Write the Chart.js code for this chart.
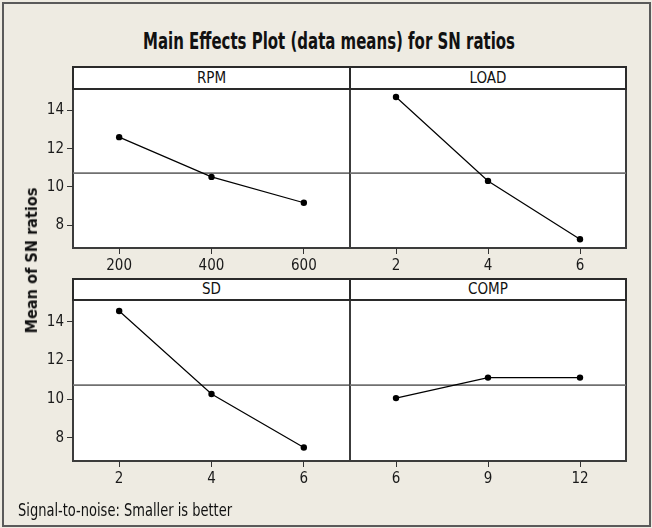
<!DOCTYPE html>
<html>
<head>
<meta charset="utf-8">
<script src="https://cdn.jsdelivr.net/npm/chart.js@4.4.0/dist/chart.umd.min.js"></script>
<style>
  body { margin: 0; background: #eeebe2; }
  #page { position: relative; width: 652px; height: 528px; overflow: hidden; background: #eeebe2;
          font-family: 'Liberation Sans Narrow', 'DejaVu Sans Condensed', 'Liberation Sans', sans-serif; color: #111; }
  .frame { position: absolute; left: 2px; top: 2px; width: 649px; height: 525px; box-sizing: border-box; border: 2px solid #5a5a5a; }
  .head { position: absolute; box-sizing: border-box; border: 2px solid #2a2a2a; background: #fff;
          display: flex; align-items: center; justify-content: center; font-size: 15px; line-height: 1; }
  .plot { position: absolute; box-sizing: border-box; border: 2px solid #3c3c3c; border-top: none; background: #fff; }
  canvas { position: absolute; }
  .txt { position: absolute; white-space: nowrap; line-height: 1; }
</style>
</head>
<body>
<div id="page">
  <div class="frame"></div>
</div>
<script>
// valores
const factores = ['RPM', 'LOAD', 'SD', 'COMP'];
const nivelesRPM = [200, 400, 600];
const mediasRPM = [12.60, 10.52, 9.17];
const nivelesLOAD = [2, 4, 6];
const mediasLOAD = [14.70, 10.31, 7.26];
const nivelesSD = [2, 4, 6];
const mediasSD = [14.55, 10.26, 7.50];
const nivelesCOMP = [6, 9, 12];
const mediasCOMP = [10.05, 11.11, 11.11];
const mediaGeneral = 10.72;
const ticksY = [8, 10, 12, 14];

const titulo = 'Main Effects Plot (data means) for SN ratios';
const tituloY = 'Mean of SN ratios';
const nota = 'Signal-to-noise: Smaller is better';

const page = document.getElementById('page');
const fuenteTicks = "'Liberation Sans Narrow', 'DejaVu Sans Condensed', 'Liberation Sans', sans-serif";

function addDiv(cls, css, text) {
  const d = document.createElement('div');
  d.className = cls;
  Object.assign(d.style, css);
  if (text) d.textContent = text;
  page.appendChild(d);
  return d;
}

// linea de la media general
const lineaMedia = {
  id: 'lineaMedia',
  beforeDatasetsDraw(chart) {
    const { ctx, chartArea, scales } = chart;
    const y = scales.y.getPixelForValue(mediaGeneral);
    ctx.save();
    ctx.strokeStyle = '#707070';
    ctx.lineWidth = 1.6;
    ctx.beginPath();
    ctx.moveTo(chartArea.left, y);
    ctx.lineTo(chartArea.right, y);
    ctx.stroke();
    ctx.restore();
  }
};

function crearPanel(nombre, niveles, medias, xMin, xMax, col, fila) {
  const cx0 = col === 0 ? 72 : 349;
  const cx1 = col === 0 ? 351 : 627;
  const hTop = fila === 0 ? 66 : 278;
  const hBot = fila === 0 ? 90 : 301;
  const pBot = fila === 0 ? 249 : 462;

  addDiv('head', { left: cx0 + 'px', top: hTop + 'px', width: (cx1 - cx0) + 'px', height: (hBot - hTop) + 'px' }, nombre);
  addDiv('plot', { left: cx0 + 'px', top: hBot + 'px', width: (cx1 - cx0) + 'px', height: (pBot - hBot) + 'px' });

  const areaTop = fila === 0 ? 89 : 300;
  const areaBot = fila === 0 ? 248 : 461;
  const altoX = 40;
  const canvas = document.createElement('canvas');
  const left = col === 0 ? 0 : 350;
  const width = col === 0 ? 350 : 276;
  const height = areaBot - areaTop + altoX;
  canvas.width = width;
  canvas.height = height;
  canvas.style.left = left + 'px';
  canvas.style.top = areaTop + 'px';
  canvas.style.width = width + 'px';
  canvas.style.height = height + 'px';
  page.appendChild(canvas);

  return new Chart(canvas.getContext('2d'), {
    type: 'line',
    data: {
      datasets: [{
        data: niveles.map((x, i) => ({ x, y: medias[i] })),
        borderColor: '#000',
        borderWidth: 1.2,
        pointRadius: 3.2,
        pointBackgroundColor: '#000',
        pointBorderWidth: 0,
        tension: 0
      }]
    },
    options: {
      responsive: false,
      animation: false,
      layout: { padding: 0, autoPadding: false },
      plugins: { legend: { display: false }, tooltip: { enabled: false } },
      scales: {
        x: {
          type: 'linear',
          min: xMin,
          max: xMax,
          afterBuildTicks: s => { s.ticks = niveles.map(v => ({ value: v })); },
          afterFit: s => { s.height = altoX; s.paddingLeft = 0; s.paddingRight = 0; },
          grid: { drawOnChartArea: false, tickLength: 6, color: '#333', lineWidth: 1 },
          border: { display: false },
          ticks: { color: '#1a1a1a', padding: 3, font: { family: fuenteTicks, size: 15 } }
        },
        y: {
          display: col === 0,
          min: 6.8,
          max: 15.12,
          afterBuildTicks: s => { s.ticks = ticksY.map(v => ({ value: v })); },
          afterFit: s => { s.width = col === 0 ? 73 : 0; s.paddingTop = 0; s.paddingBottom = 0; },
          grid: { drawOnChartArea: false, tickLength: 6, color: '#333', lineWidth: 1 },
          border: { display: false },
          ticks: { color: '#1a1a1a', padding: 3, font: { family: fuenteTicks, size: 15 } }
        }
      }
    },
    plugins: [lineaMedia]
  });
}

crearPanel(factores[0], nivelesRPM, mediasRPM, 100, 700, 0, 0);
crearPanel(factores[1], nivelesLOAD, mediasLOAD, 1, 7, 1, 0);
crearPanel(factores[2], nivelesSD, mediasSD, 1, 7, 0, 1);
crearPanel(factores[3], nivelesCOMP, mediasCOMP, 4.5, 13.5, 1, 1);

// textos
const t = addDiv('txt', { fontSize: '23px', fontWeight: 'bold', top: '30px' }, titulo);
let w = t.offsetWidth;
t.style.left = (329 - w / 2) + 'px';
t.style.transformOrigin = 'center';
t.style.transform = `scaleX(${372 / w})`;

const n = addDiv('txt', { fontSize: '18px', top: '501px', left: '18px' }, nota);
w = n.offsetWidth;
n.style.transformOrigin = 'left center';
n.style.transform = `scaleX(${214 / w})`;

const yl = addDiv('txt', { fontSize: '15px', fontWeight: 'bold', fontFamily: "'DejaVu Sans', sans-serif" }, tituloY);
w = yl.offsetWidth;
const h = yl.offsetHeight;
yl.style.left = (32 - w / 2) + 'px';
yl.style.top = (260 - h / 2) + 'px';
yl.style.transformOrigin = 'center';
yl.style.transform = `rotate(-90deg) scaleX(${146 / w})`;
</script>
</body>
</html>
